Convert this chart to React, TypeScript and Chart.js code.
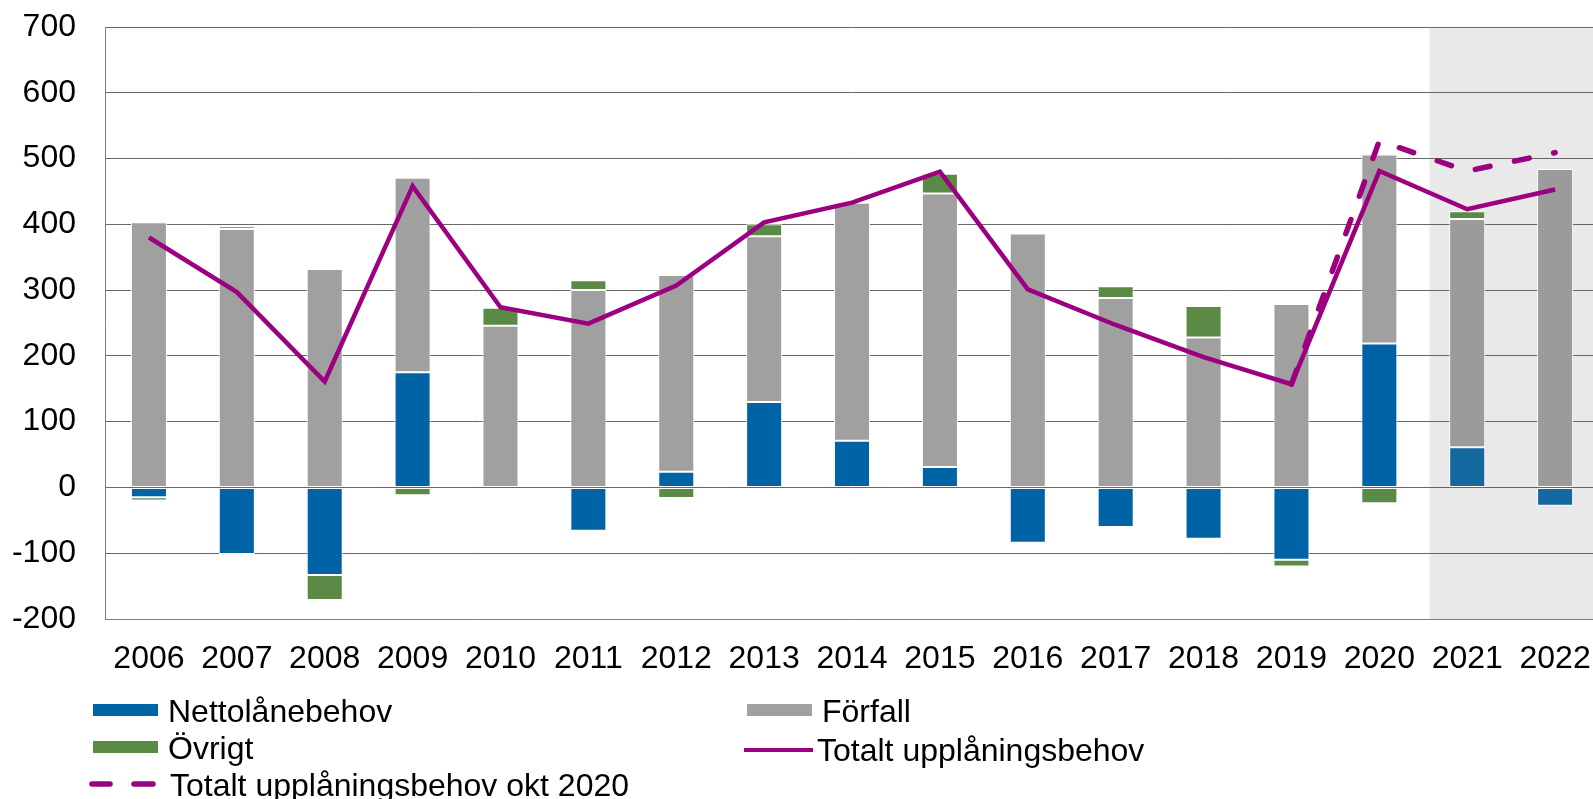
import React, { useEffect, useRef } from 'react';
import { Chart, registerables } from 'chart.js';

Chart.register(...registerables);

// ---- Data ----
const years = ['2006', '2007', '2008', '2009', '2010', '2011', '2012', '2013', '2014', '2015', '2016', '2017', '2018', '2019', '2020', '2021', '2022'];
const nettolanebehov = [-15, -101, -133, 175, 0, -66, 24, 130, 71, 31, -84, -60, -78, -110, 219, 61, -28];
const forfall = [403, 393, 332, 296, 246, 300, 299, 252, 362, 416, 386, 288, 228, 279, 287, 347, 484];
const ovrigt = [-5, 4, -38, -12, 27, 15, -16, 18, 0, 30, 0, 18, 48, -10, -24, 12, 0];
const totalt = [380, 297, 161, 458, 274, 249, 307, 403, 433, 480, 301, 247, 198, 157, 481, 423, 453];
const totaltOkt2020 = [null, null, null, null, null, null, null, null, null, null, null, null, null, 157, 527, 481, 509];
const yMin = -200;
const yMax = 700;
const yStep = 100;

// ---- Styles ----
const FONT = '"Liberation Sans", Arial, Helvetica, sans-serif';
const FONT_SIZE = 32;
const BLUE = '#0063A6';
const BLUE_F = '#1468A0';
const GRAY = '#A0A0A0';
const GRAY_F = '#9B9B9B';
const GREEN = '#5B8A46';
const PURPLE = '#9C0080';
const SHADE = '#E9E9E9';
const FORECAST_FROM = 15; // index of first forecast year (2021)

const colorsFor = (base: string, fc: string) => years.map((_, i) => (i >= FORECAST_FROM ? fc : base));

const shadePlugin = {
  id: 'forecastShade',
  beforeDraw(chart: any) {
    const { ctx, chartArea, scales } = chart;
    const x = scales.x;
    const startX = x.getPixelForValue(FORECAST_FROM - 0.43);
    ctx.save();
    ctx.fillStyle = SHADE;
    ctx.fillRect(startX, chartArea.top, chartArea.right - startX, chartArea.bottom - chartArea.top);
    ctx.restore();
  },
};

const legendPlugin = {
  id: 'gridLegend',
  afterDraw(chart: any) {
    const { ctx } = chart;
    const ds = chart.data.datasets;
    ctx.save();
    ctx.font = `${FONT_SIZE}px ${FONT}`;
    ctx.fillStyle = '#000';
    ctx.textAlign = 'left';
    ctx.textBaseline = 'alphabetic';
    const col = [93, 747];
    const row = [710, 747, 784];
    const box = (c: number, r: number, color: string, label: string) => {
      ctx.fillStyle = color;
      ctx.fillRect(col[c], row[r] - 6, 65, 12);
      ctx.fillStyle = '#000';
      ctx.fillText(label, col[c] + 75, row[r] + 11.5);
    };
    box(0, 0, BLUE, ds[2].label);
    box(1, 0, GRAY, ds[3].label);
    box(0, 1, GREEN, ds[4].label);
    // solid line
    ctx.strokeStyle = PURPLE;
    ctx.lineWidth = 4;
    ctx.lineCap = 'butt';
    ctx.beginPath();
    ctx.moveTo(col[1] - 3, row[1] + 3);
    ctx.lineTo(col[1] + 66, row[1] + 3);
    ctx.stroke();
    ctx.fillText(ds[0].label, col[1] + 70, row[1] + 14);
    // dashed line
    ctx.lineWidth = 5.5;
    ctx.lineCap = 'round';
    ctx.beginPath();
    ctx.moveTo(92, row[2]);
    ctx.lineTo(110, row[2]);
    ctx.moveTo(134, row[2]);
    ctx.lineTo(153, row[2]);
    ctx.stroke();
    ctx.fillText(ds[1].label, 170, row[2] + 11.5);
    ctx.restore();
  },
};

export default function App() {
  const ref = useRef<HTMLCanvasElement | null>(null);

  useEffect(() => {
    if (!ref.current) return;
    Chart.defaults.font.family = FONT;
    Chart.defaults.font.size = FONT_SIZE;
    Chart.defaults.color = '#000';
    const chart = new Chart(ref.current, {
      type: 'bar',
      data: {
        labels: years,
        datasets: [
          {
            type: 'line',
            label: 'Totalt upplåningsbehov',
            data: totalt,
            borderColor: PURPLE,
            backgroundColor: PURPLE,
            borderWidth: 4.5,
            pointRadius: 0,
            tension: 0,
            stack: 'l1',
            order: 0,
          } as any,
          {
            type: 'line',
            label: 'Totalt upplåningsbehov okt 2020',
            data: totaltOkt2020,
            borderColor: PURPLE,
            backgroundColor: PURPLE,
            borderWidth: 5.5,
            borderDash: [15, 25],
            borderCapStyle: 'round',
            pointRadius: 0,
            tension: 0,
            stack: 'l2',
            order: 0,
          } as any,
          {
            label: 'Nettolånebehov',
            data: nettolanebehov,
            backgroundColor: colorsFor(BLUE, BLUE_F),
            borderColor: '#FFFFFF',
            borderWidth: 1,
            borderSkipped: false,
            stack: 'bars',
            order: 1,
          },
          {
            label: 'Förfall',
            data: forfall,
            backgroundColor: colorsFor(GRAY, GRAY_F),
            borderColor: '#FFFFFF',
            borderWidth: 1,
            borderSkipped: false,
            stack: 'bars',
            order: 1,
          },
          {
            label: 'Övrigt',
            data: ovrigt,
            backgroundColor: colorsFor(GREEN, GREEN),
            borderColor: '#FFFFFF',
            borderWidth: 1,
            borderSkipped: false,
            stack: 'bars',
            order: 1,
          },
        ],
      },
      options: {
        responsive: false,
        animation: false,
        devicePixelRatio: 1,
        layout: { padding: { top: 27, right: 10, bottom: 120, left: 0 } },
        datasets: { bar: { categoryPercentage: 1, barPercentage: 0.41 } },
        plugins: { legend: { display: false }, tooltip: { enabled: false } },
        scales: {
          x: {
            stacked: true,
            grid: { display: false, drawTicks: false },
            border: { display: true, color: '#7F7F7F', width: 1 },
            ticks: { maxRotation: 0, autoSkip: false, padding: 21, color: '#000' },
            afterFit: (s: any) => { s.height = 60; },
          },
          y: {
            stacked: true,
            min: yMin,
            max: yMax,
            ticks: { stepSize: yStep, padding: 0, color: '#000' },
            grid: { color: '#666666', lineWidth: 1, drawTicks: true, tickLength: 29, tickColor: 'rgba(0,0,0,0)' },
            border: { display: true, color: '#7F7F7F', width: 1 },
            afterFit: (s: any) => { s.width = 105; },
          },
        },
      },
      plugins: [shadePlugin, legendPlugin],
    } as any);
    return () => chart.destroy();
  }, []);

  return (
    <div style={{ position: 'fixed', left: 0, top: 0, width: 1593, height: 799, overflow: 'hidden', background: '#fff' }}>
      <canvas ref={ref} width={1612} height={799} style={{ display: 'block', width: 1612, height: 799 }} />
    </div>
  );
}
